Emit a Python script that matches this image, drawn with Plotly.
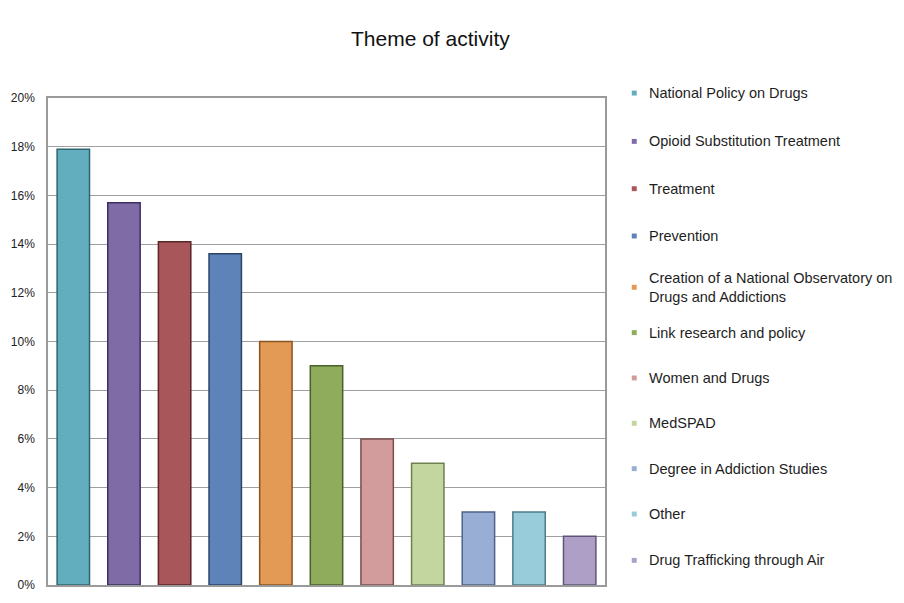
import plotly.graph_objects as go

categories = [
    "National Policy on Drugs",
    "Opioid Substitution Treatment",
    "Treatment",
    "Prevention",
    "Creation of a National Observatory on<br>Drugs and Addictions",
    "Link research and policy",
    "Women and Drugs",
    "MedSPAD",
    "Degree in Addiction Studies",
    "Other",
    "Drug Trafficking through Air",
]
values = [17.9, 15.7, 14.1, 13.6, 10.0, 9.0, 6.0, 5.0, 3.0, 3.0, 2.0]
colors = ["#62AEBE", "#7F6CA6", "#A9565A", "#5E83B8", "#E39A55", "#8FAB5C",
          "#D29C9C", "#C4D6A0", "#98AED4", "#98CCDB", "#AE9FC6"]
edges = ["#2F6470", "#3C2F5E", "#5A2626", "#2B4468", "#8A5420", "#4A6128",
         "#7A4E4E", "#6F8050", "#4E6386", "#4E7C8A", "#5F5478"]
tick_vals = [0, 2, 4, 6, 8, 10, 12, 14, 16, 18, 20]
tick_text = [f"{v}%" for v in tick_vals]
legend_y_px = [93, 142, 190, 238, 290, 336, 382, 428, 474, 520, 567]

W, H = 904, 603
L, R, T, B = 43, 299, 98, 11
plot_h = H - T - B
plot_w = W - L - R

fig = go.Figure()
for i, (c, v) in enumerate(zip(categories, values)):
    fig.add_trace(go.Bar(
        x=[i], y=[v], name=c.replace("<br>", " "),
        marker=dict(color=colors[i], line=dict(color=edges[i], width=1.5)),
        width=0.64, showlegend=False,
    ))

annotations = []
shapes = []
for i, c in enumerate(categories):
    yp = (H - B - legend_y_px[i]) / plot_h
    annotations.append(dict(
        x=(647 - L) / plot_w, y=yp, xref="paper", yref="paper",
        text=c, showarrow=False, xanchor="left", yanchor="middle", align="left",
        font=dict(family="Liberation Sans, Arial, sans-serif", size=14.5, color="#1e1e1e"),
    ))
    x0 = (632 - L) / plot_w
    x1 = (637 - L) / plot_w
    shapes.append(dict(type="rect", xref="paper", yref="paper",
                       x0=x0, x1=x1, y0=yp - 2.5 / plot_h, y1=yp + 2.5 / plot_h,
                       fillcolor=colors[i], line=dict(width=0)))

annotations.append(dict(
    x=(347 - L) / plot_w, y=(H - B - 38) / plot_h, xref="paper", yref="paper",
    text="Theme of activity", showarrow=False, xanchor="left", yanchor="middle",
    font=dict(family="Liberation Sans, Arial, sans-serif", size=21, color="#111111"),
))

fig.update_layout(
    width=W, height=H,
    margin=dict(l=L, r=R, t=T, b=B, pad=0),
    paper_bgcolor="white", plot_bgcolor="white",
    barmode="overlay",
    showlegend=False,
    annotations=annotations,
    shapes=shapes,
    xaxis=dict(range=[-0.5, len(values) - 0.5], showticklabels=False, showgrid=False,
               zeroline=False, showline=True, mirror=True, linecolor="#9a9a9a", linewidth=1.5,
               ticks=""),
    yaxis=dict(range=[0, 20], tickvals=tick_vals, ticktext=tick_text,
               showgrid=True, gridcolor="#a0a0a0", gridwidth=1.2,
               zeroline=False, showline=True, mirror=True, linecolor="#9a9a9a", linewidth=1.5,
               ticks="", ticklabelstandoff=9,
               tickfont=dict(family="Liberation Sans, Arial, sans-serif", size=12, color="#222222")),
)

fig.write_html("out.html")
